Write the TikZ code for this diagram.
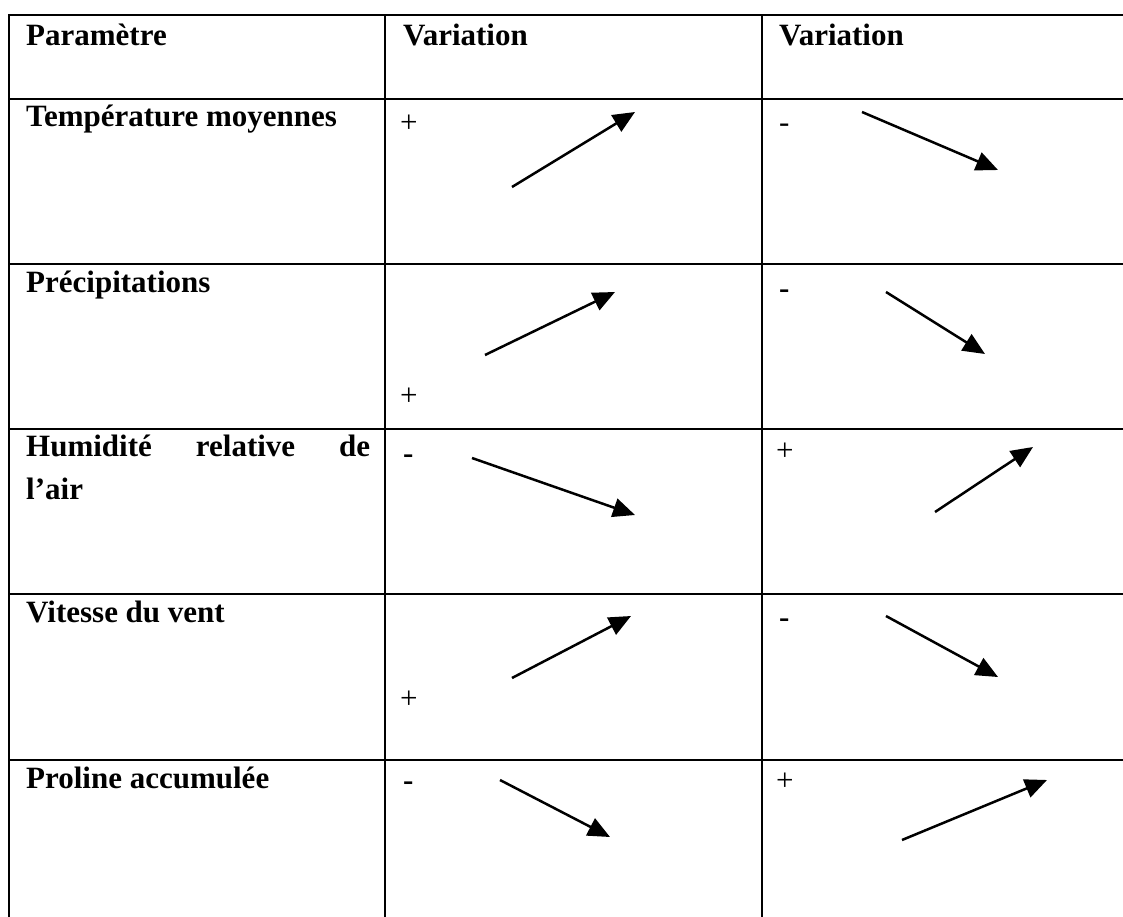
\documentclass[tikz,border=0pt]{standalone}
\usepackage{fontspec}
\setmainfont{Liberation Serif}
\usetikzlibrary{arrows.meta}

\begin{document}
\begin{tikzpicture}[x=1pt,y=-1pt,
  rule/.style={line width=2pt},
  label/.style={font=\fontsize{31}{43}\selectfont\bfseries,anchor=base west,inner sep=0pt},
  sign/.style={font=\fontsize{31}{43}\selectfont,anchor=base west,inner sep=0pt},
  trend/.style={line width=2.5pt,-{Triangle[length=22pt,width=19pt]}}]
  \useasboundingbox (0,0) rectangle (1123,917);
  % table rules
  \draw[rule] (9,917)--(9,15)--(1123,15);
  \foreach \y in {99,264,429,594,760} \draw[rule] (9,\y)--(1123,\y);
  \foreach \x in {385,762} \draw[rule] (\x,15)--(\x,917);
  % heads and parameters
  \node[label] (P) at (26,46) {Paramètre};
  \node[label] (V) at (403,46) {Variation};
  \node[label] (W) at (779,46) {Variation};
  \node[label] (T) at (26,127) {Température moyennes};
  \node[label] (R) at (26,292) {Précipitations};
  \node[label,text width=344pt,align=left] (H) at (26,456) {Humidité\hfill relative\hfill de\\l’air};
  \node[label] (S) at (26,622) {Vitesse du vent};
  \node[label] (L) at (26,788) {Proline accumulée};
  % signs
  \node[sign] (T1) at (400,133) {+};  \node[sign] (T2) at (779,133) {-};
  \node[sign] (R1) at (400,405) {+};  \node[label] (R2) at (779,298) {-};
  \node[label] (H1) at (403,463) {-}; \node[sign] (H2) at (776,460) {+};
  \node[sign] (S1) at (400,708) {+};  \node[label] (S2) at (779,627) {-};
  \node[label] (L1) at (403,790) {-}; \node[sign] (L2) at (776,790) {+};
  % arrows
  \coordinate (a) at (512,187); \coordinate (b) at (635,112);
  \coordinate (c) at (862,112); \coordinate (d) at (998,170);
  \coordinate (e) at (485,355); \coordinate (f) at (615,292);
  \coordinate (g) at (886,292); \coordinate (h) at (985,354);
  \coordinate (i) at (472,458); \coordinate (j) at (635,515);
  \coordinate (k) at (935,512); \coordinate (l) at (1033,447);
  \coordinate (m) at (512,678); \coordinate (n) at (631,616);
  \coordinate (o) at (886,616); \coordinate (q) at (998,677);
  \coordinate (r) at (500,780); \coordinate (s) at (610,837);
  \coordinate (t) at (902,840); \coordinate (u) at (1047,780);
  \draw[trend] (a)--(b); \draw[trend] (c)--(d);
  \draw[trend] (e)--(f); \draw[trend] (g)--(h);
  \draw[trend] (i)--(j); \draw[trend] (k)--(l);
  \draw[trend] (m)--(n); \draw[trend] (o)--(q);
  \draw[trend] (r)--(s); \draw[trend] (t)--(u);
\end{tikzpicture}
\end{document}
